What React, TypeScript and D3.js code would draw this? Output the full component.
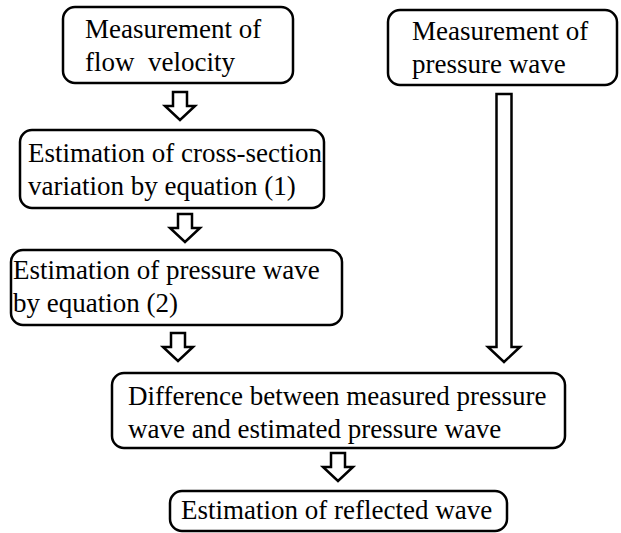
import React from "react";
import * as d3 from "d3";

const W = 621;
const H = 533;

// Box texts (lines)
const boxTexts: string[][] = [
  ["Measurement of", "flow\u00a0 velocity"],
  ["Measurement of", "pressure wave"],
  ["Estimation of cross-section", "variation by equation (1)"],
  ["Estimation of pressure wave", "by equation (2)"],
  ["Difference between measured pressure", "wave and estimated pressure wave"],
  ["Estimation of reflected wave"],
];

// layout (x, y, w, h, textX, firstBaseline)
const boxLayout = [
  { x: 63, y: 7, w: 230, h: 76, tx: 85, ty: 38 },
  { x: 388, y: 10, w: 229, h: 75, tx: 412, ty: 40 },
  { x: 20, y: 130, w: 304, h: 78, tx: 28, ty: 162 },
  { x: 11, y: 250, w: 331, h: 75, tx: 13, ty: 279 },
  { x: 112, y: 373, w: 453, h: 75, tx: 128, ty: 405 },
  { x: 170, y: 491, w: 337, h: 40, tx: 181, ty: 519 },
];

// arrows: center x, top y, tip y
const arrowLayout = [
  { cx: 180, y0: 92, y1: 120, shaft: 14, head: 30, headH: 14 },
  { cx: 185, y0: 214, y1: 242, shaft: 14, head: 30, headH: 14 },
  { cx: 178, y0: 333, y1: 361, shaft: 14, head: 30, headH: 14 },
  { cx: 338, y0: 453, y1: 481, shaft: 14, head: 30, headH: 14 },
  { cx: 504, y0: 94, y1: 362, shaft: 15, head: 32, headH: 15 },
];

function arrowPath(a: { cx: number; y0: number; y1: number; shaft: number; head: number; headH: number }) {
  const p = d3.path();
  const hs = a.shaft / 2;
  const hh = a.head / 2;
  const yh = a.y1 - a.headH;
  p.moveTo(a.cx - hs, a.y0);
  p.lineTo(a.cx + hs, a.y0);
  p.lineTo(a.cx + hs, yh);
  p.lineTo(a.cx + hh, yh);
  p.lineTo(a.cx, a.y1);
  p.lineTo(a.cx - hh, yh);
  p.lineTo(a.cx - hs, yh);
  p.closePath();
  return p.toString();
}

const LINE_H = 33;

const textItems = boxLayout.flatMap((b, i) =>
  boxTexts[i].map((t, j) => ({ key: `${i}-${j}`, x: b.tx, y: b.ty + j * LINE_H, t }))
);

export default function App() {
  return (
    <svg width={W} height={H} style={{ position: "absolute", left: 0, top: 0, background: "#fff" }}>
      <rect x={0} y={0} width={W} height={H} fill="#fff" />
      {boxLayout.map((b, i) => (
        <rect
          key={"r" + i}
          x={b.x}
          y={b.y}
          width={b.w}
          height={b.h}
          rx={12}
          ry={12}
          fill="none"
          stroke="#000"
          strokeWidth={2.5}
        />
      ))}
      {arrowLayout.map((a, i) => (
        <path key={"a" + i} d={arrowPath(a)} fill="none" stroke="#000" strokeWidth={2.5} />
      ))}
      {textItems.map((d) => (
        <text key={d.key} x={d.x} y={d.y} fontSize={27} style={{ fontFamily: "Liberation Serif" }}>
          {d.t}
        </text>
      ))}
    </svg>
  );
}
